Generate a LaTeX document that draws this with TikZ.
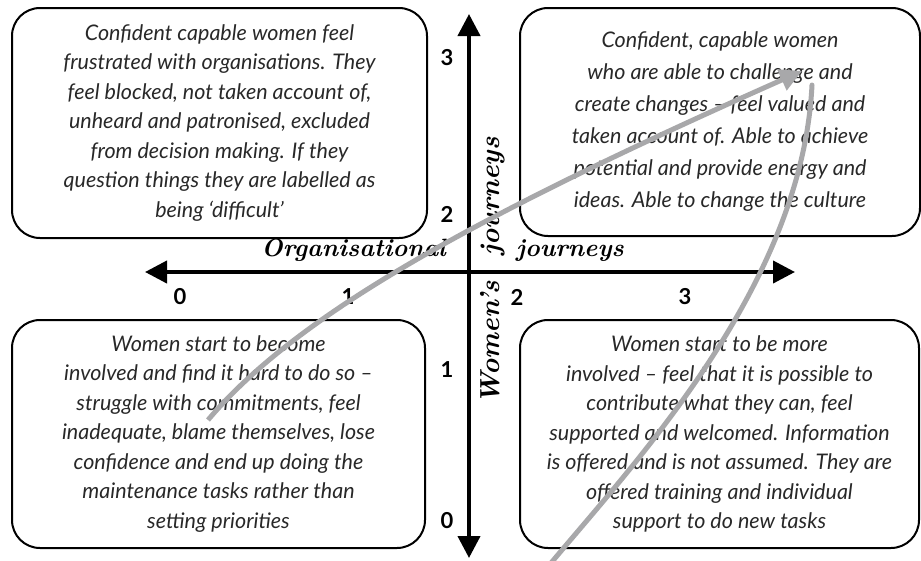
\documentclass[tikz,border=0pt]{standalone}
\usepackage{fontspec}
\newfontfamily\bodyfont{Lato}
\usetikzlibrary{arrows.meta}
\definecolor{pathgray}{RGB}{168,168,170}
\definecolor{textgray}{RGB}{40,40,40}
\begin{document}
\begin{tikzpicture}[x=1pt,y=-1pt,
  quadrant/.style={draw, line width=2pt, rounded corners=28pt, rectangle,
    align=center, inner sep=0pt, text=textgray,
    font=\bodyfont\itshape\fontsize{21.5}{29.5}\selectfont},
  axis/.style={line width=4pt, {Triangle[length=22pt,width=22pt]}-{Triangle[length=22pt,width=22pt]}},
  scalenum/.style={font=\bodyfont\bfseries\fontsize{22}{22}\selectfont, inner sep=0pt},
  axislabel/.style={font=\bfseries\itshape\fontsize{25}{25}\selectfont, inner sep=0pt},
  vlabel/.style={font=\bfseries\itshape\fontsize{27.5}{27.5}\selectfont, inner sep=0pt, rotate=90},
  journey/.style={draw=pathgray, line width=5pt}
]
\useasboundingbox (0,0) rectangle (921,560);

% the four quadrants
\node[quadrant, minimum width=415pt, minimum height=230pt] (tl) at (219.5,123) {%
  Confident capable women feel\\
  frustrated with organisations. They\\
  feel blocked, not taken account of,\\
  unheard and patronised, excluded\\
  from decision making. If they\\
  question things they are labelled as\\
  being ‘difficult’};
\node[quadrant, minimum width=400pt, minimum height=228pt,
      font=\bodyfont\itshape\fontsize{21.5}{32}\selectfont] (tr) at (720,122) {%
  Confident, capable women\\
  who are able to challenge and\\
  create changes – feel valued and\\
  taken account of. Able to achieve\\
  potential and provide energy and\\
  ideas. Able to change the culture};
\node[quadrant, minimum width=413pt, minimum height=228pt] (bl) at (218.5,434) {%
  Women start to become\\
  involved and find it hard to do so –\\
  struggle with commitments, feel\\
  inadequate, blame themselves, lose\\
  confidence and end up doing the\\
  maintenance tasks rather than\\
  setting priorities};
\node[quadrant, minimum width=399pt, minimum height=228pt] (br) at (719.5,434) {%
  Women start to be more\\
  involved – feel that it is possible to\\
  contribute what they can, feel\\
  supported and welcomed. Information\\
  is offered and is not assumed. They are\\
  offered training and individual\\
  support to do new tasks};

% axes
\coordinate (xl) at (145,272);
\coordinate (xr) at (795,272);
\coordinate (yt) at (469,14);
\coordinate (yb) at (469,558);
\draw[axis] (xl) -- (xr);
\draw[axis] (yt) -- (yb);

% axis labels
\node[axislabel, anchor=base east] (orgl) at (446,256) {Organisational};
\node[axislabel, anchor=base west] (orgr) at (516,256) {journeys};
\node[vlabel, anchor=base west] (wom) at (499,405) {Women’s};
\node[vlabel, anchor=base east] (jour) at (499,137) {journeys};

% scale numbers
\node[scalenum] (v3) at (447,58) {3};
\node[scalenum] (v2) at (447,214) {2};
\node[scalenum] (v1) at (447,370) {1};
\node[scalenum] (v0) at (447,521) {0};
\node[scalenum] (h0) at (180,297) {0};
\node[scalenum] (h1) at (348,297) {1};
\node[scalenum] (h2) at (517,297) {2};
\node[scalenum] (h3) at (685,297) {3};

% journey paths
\coordinate (p1s) at (208,420);
\coordinate (p1e) at (802,71);
\coordinate (p2s) at (551,563);
\coordinate (p2e) at (812,85);
\draw[journey, -{Triangle[length=22pt,width=22pt]}]
  (p1s) .. controls (298,313) and (482,213) .. (p1e);
\draw[journey, line cap=round]
  (p2s) .. controls (637,460) and (802,285) .. (p2e);
\end{tikzpicture}
\end{document}
